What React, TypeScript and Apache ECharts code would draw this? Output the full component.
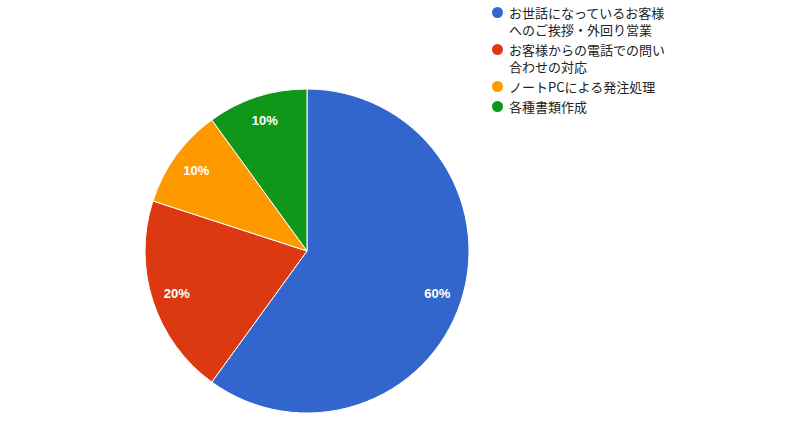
import * as echarts from "echarts"
import { useEffect, useRef } from "react"

// legend names keep the original line break
const categories = [
  "お世話になっているお客様\nへのご挨拶・外回り営業",
  "お客様からの電話での問い\n合わせの対応",
  "ノートPCによる発注処理",
  "各種書類作成",
]
const values = [60, 20, 10, 10]
const colors = ["#3366cc", "#dc3912", "#ff9900", "#109618"]

const CX = 307
const CY = 251
const R = 162
const LABEL_R = 132 // labels sit further out than ECharts' "inside" (r/2)

export default function App() {
  const ref = useRef<HTMLDivElement>(null)

  useEffect(() => {
    if (!ref.current) return
    const chart = echarts.init(ref.current, null, { renderer: "svg" })

    const font = '"Noto Sans CJK JP", "Noto Sans", sans-serif'
    const rich: Record<string, any> = {
      ind: { width: 11, lineHeight: 17 },
      t: {
        fontSize: 13,
        lineHeight: 17,
        padding: [0, 0, 0, 6],
        color: "#222222",
        fontFamily: font,
      },
    }
    colors.forEach((c, i) => {
      rich["d" + i] = { width: 11, height: 11, lineHeight: 17, borderRadius: 6, backgroundColor: c }
    })

    chart.setOption({
      animation: false,
      legend: {
        orient: "vertical",
        left: 486,
        top: 4,
        padding: 0,
        itemGap: 3,
        itemWidth: 0,
        itemHeight: 0,
        selectedMode: false,
        data: categories,
        formatter: (name: string) => {
          const i = categories.indexOf(name)
          return name
            .split("\n")
            .map((line, j) => (j === 0 ? `{d${i}|}` : "{ind|}") + `{t|${line}}`)
            .join("\n")
        },
        textStyle: { fontSize: 13, lineHeight: 17, fontFamily: font, rich },
      },
      series: [
        {
          type: "pie",
          center: [CX, CY],
          radius: [0, R],
          startAngle: 90,
          clockwise: true,
          silent: true,
          emphasis: { disabled: true },
          itemStyle: { borderColor: "#ffffff", borderWidth: 1 },
          label: {
            show: true,
            position: "inside",
            formatter: "{d}%",
            color: "#ffffff",
            fontSize: 13,
            fontWeight: "bold",
            fontFamily: 'Arial, "Liberation Sans", sans-serif',
          },
          labelLayout: (p: any) => {
            const lx = p.labelRect.x + p.labelRect.width / 2
            const ly = p.labelRect.y + p.labelRect.height / 2
            const k = LABEL_R / (R / 2) - 1
            return { dx: (lx - CX) * k, dy: (ly - CY) * k }
          },
          data: categories.map((name, i) => ({
            name,
            value: values[i],
            itemStyle: { color: colors[i] },
          })),
        },
      ],
    })

    return () => chart.dispose()
  }, [])

  return (
    <div
      ref={ref}
      style={{ position: "absolute", left: 0, top: 0, width: 800, height: 426, background: "#fff" }}
    />
  )
}
